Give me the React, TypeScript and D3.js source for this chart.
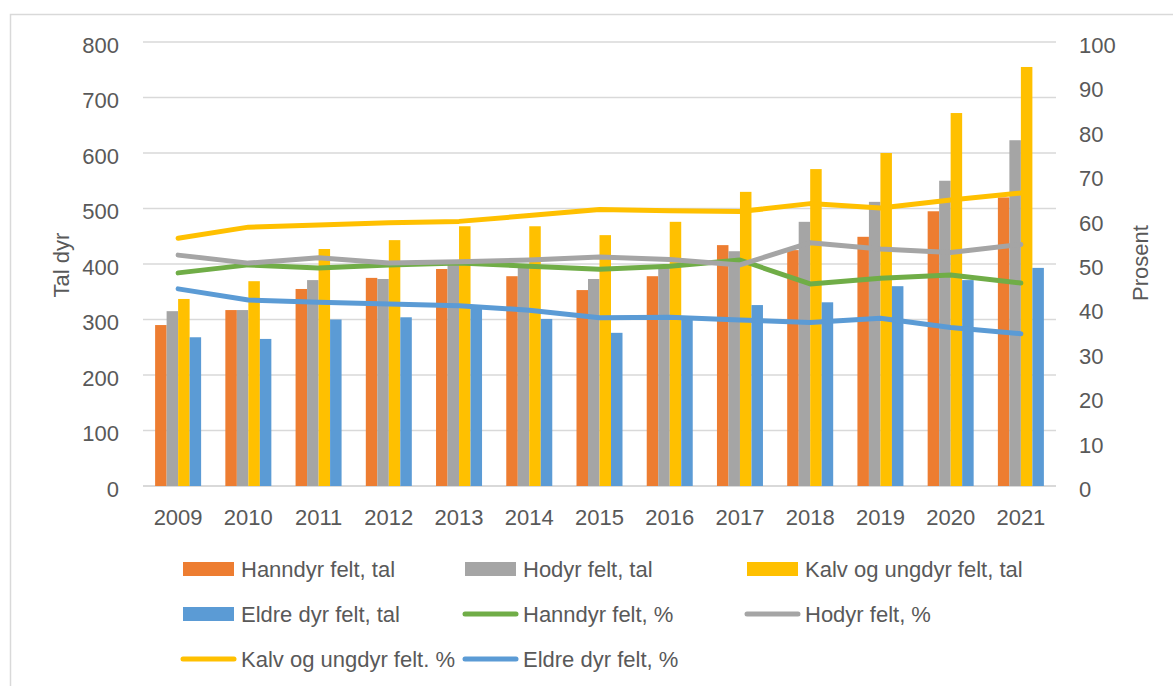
import React from 'react';
import * as d3 from 'd3';

const years = ['2009', '2010', '2011', '2012', '2013', '2014', '2015', '2016', '2017', '2018', '2019', '2020', '2021'];

const hanndyrTal = [290, 317, 355, 375, 391, 378, 353, 378, 434, 425, 449, 495, 520];
const hodyrTal = [315, 317, 371, 373, 398, 398, 373, 393, 423, 476, 512, 550, 623];
const kalvTal = [337, 369, 427, 443, 468, 468, 452, 476, 530, 571, 600, 672, 755];
const eldreTal = [268, 265, 300, 304, 319, 301, 276, 301, 326, 331, 360, 371, 393];

const hanndyrPct = [48.0, 49.8, 49.1, 49.8, 50.2, 49.5, 48.8, 49.5, 50.9, 45.5, 46.8, 47.5, 45.7];
const hodyrPct = [52.0, 50.2, 51.4, 50.2, 50.5, 50.9, 51.6, 51.0, 49.8, 54.8, 53.4, 52.6, 54.4];
const kalvPct = [55.8, 58.3, 58.8, 59.3, 59.6, 60.9, 62.3, 62.0, 61.8, 63.6, 62.6, 64.4, 66.0];
const eldrePct = [44.4, 41.9, 41.4, 41.0, 40.6, 39.6, 37.9, 38.0, 37.4, 36.8, 37.8, 35.7, 34.3];

const leftTicks = [0, 100, 200, 300, 400, 500, 600, 700, 800];
const rightTicks = [0, 10, 20, 30, 40, 50, 60, 70, 80, 90, 100];

const barSeries = [
    { key: 'Hanndyr felt, tal', values: hanndyrTal, color: '#ED7D31' },
    { key: 'Hodyr felt, tal', values: hodyrTal, color: '#A5A5A5' },
    { key: 'Kalv og ungdyr felt, tal', values: kalvTal, color: '#FFC000' },
    { key: 'Eldre dyr felt, tal', values: eldreTal, color: '#5B9BD5' }
];

const lineSeries = [
    { key: 'Hanndyr felt, %', values: hanndyrPct, color: '#70AD47' },
    { key: 'Hodyr felt, %', values: hodyrPct, color: '#A5A5A5' },
    { key: 'Kalv og ungdyr felt. %', values: kalvPct, color: '#FFC000' },
    { key: 'Eldre dyr felt, %', values: eldrePct, color: '#5B9BD5' }
];

// legend order as in the picture: 3 per row
const legendItems = [
    ...barSeries.map(s => ({ ...s, type: 'bar' })),
    ...lineSeries.map(s => ({ ...s, type: 'line' }))
];

const W = 1173;
const H = 686;
const plot = { left: 143, right: 1056, top: 42, bottom: 486 };
const textColor = '#595959';
const font = '"Liberation Sans", Arial, sans-serif';

export default function App() {
    const x0 = d3.scaleBand().domain(years).range([plot.left, plot.right]).padding(0);
    const bw = x0.bandwidth();
    const gap = bw * 0.345;
    const x1 = d3.scaleBand().domain(barSeries.map(s => s.key)).range([gap / 2, bw - gap / 2]);

    const yL = d3.scaleLinear().domain([0, 800]).range([plot.bottom, plot.top]);
    const yR = d3.scaleLinear().domain([0, 100]).range([plot.bottom, plot.top]);

    const line = d3.line<number>()
        .x((d, i) => (x0(years[i]) as number) + bw / 2)
        .y(d => yR(d));

    const legendCols = [183, 465, 747];
    const legendRows = [569, 614, 659];

    return (
        <svg width={W} height={H} style={{ position: 'absolute', left: 0, top: 0 }} fontFamily={font}>
            <rect x={0} y={0} width={W} height={H} fill="#fff" />
            <rect x={10.5} y={14.5} width={W + 20} height={H + 20} fill="none" stroke="#d9d9d9" strokeWidth={1.5} />

            {leftTicks.map(t => (
                <line key={t} x1={plot.left} x2={plot.right} y1={yL(t)} y2={yL(t)}
                    stroke="#d9d9d9" strokeWidth={t === 0 ? 2 : 1.5} />
            ))}

            {years.map((yr, i) => (
                <g key={yr} transform={`translate(${x0(yr)},0)`}>
                    {barSeries.map(s => (
                        <rect key={s.key} x={x1(s.key)} width={x1.bandwidth()}
                            y={yL(s.values[i])} height={yL(0) - yL(s.values[i])} fill={s.color} />
                    ))}
                </g>
            ))}

            {lineSeries.map(s => (
                <path key={s.key} d={line(s.values) || ''} fill="none" stroke={s.color}
                    strokeWidth={5} strokeLinejoin="round" strokeLinecap="round" />
            ))}

            {leftTicks.map(t => (
                <text key={t} x={119} y={yL(t) + 3} dy="0.36em" textAnchor="end" fontSize={22} fill={textColor}>{t}</text>
            ))}
            {rightTicks.map(t => (
                <text key={t} x={1079} y={yR(t) + 3} dy="0.36em" textAnchor="start" fontSize={22} fill={textColor}>{t}</text>
            ))}
            {years.map(yr => (
                <text key={yr} x={(x0(yr) as number) + bw / 2} y={517} dy="0.36em" textAnchor="middle" fontSize={22} fill={textColor}>{yr}</text>
            ))}

            <text transform="translate(61,265) rotate(-90)" textAnchor="middle" dy="0.36em" fontSize={22} fill={textColor}>Tal dyr</text>
            <text transform="translate(1140,263) rotate(-90)" textAnchor="middle" dy="0.36em" fontSize={22} fill={textColor}>Prosent</text>

            {legendItems.map((item, i) => {
                const lx = legendCols[i % 3];
                const ly = legendRows[Math.floor(i / 3)];
                return (
                    <g key={item.key} transform={`translate(${lx},${ly})`}>
                        {item.type === 'bar'
                            ? <rect x={0} y={-7} width={51} height={14} fill={item.color} />
                            : <line x1={0} x2={51} y1={0} y2={0} stroke={item.color} strokeWidth={5} strokeLinecap="round" />}
                        <text x={58} y={0} dy="0.36em" fontSize={22} fill={textColor}>{item.key}</text>
                    </g>
                );
            })}
        </svg>
    );
}
